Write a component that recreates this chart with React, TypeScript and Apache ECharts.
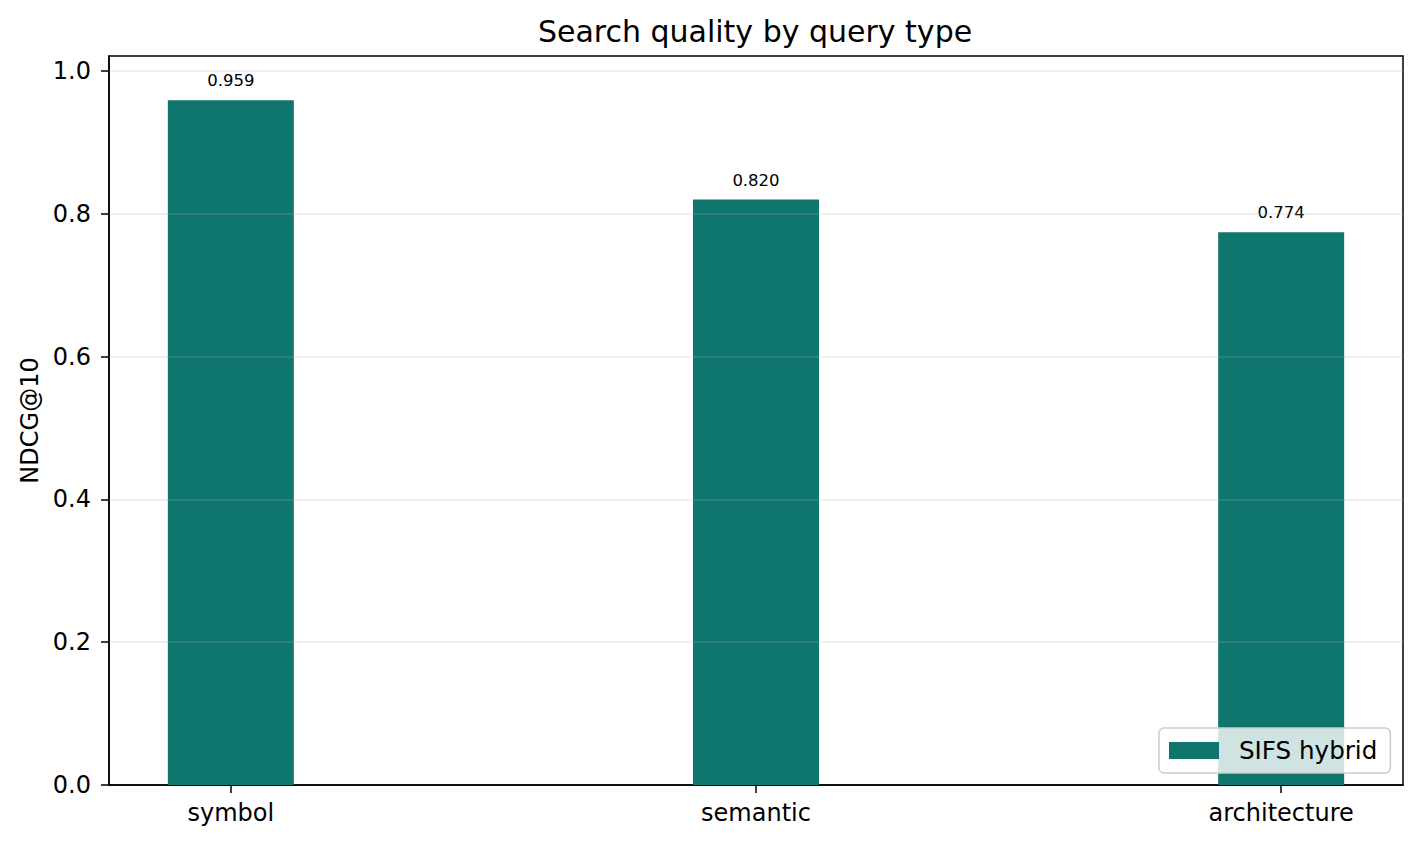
import { useEffect, useRef } from 'react';
import * as echarts from 'echarts';

const CATEGORIES = ['symbol', 'semantic', 'architecture'];
const NDCG = [0.959, 0.82, 0.774];
const Y_TICKS = [0, 0.2, 0.4, 0.6, 0.8, 1.0];
const SERIES_NAME = 'SIFS hybrid';

const TEAL = '#0f766e';
const FONT = 'DejaVu Sans';

export default function App() {
  const ref = useRef<HTMLDivElement | null>(null);

  useEffect(() => {
    if (!ref.current) return;
    const chart = echarts.init(ref.current, undefined, { renderer: 'svg' });

    const data = NDCG.map((v, i) => [i, v]);
    const catIdx = CATEGORIES.map((_, i) => i);

    chart.setOption({
      animation: false,
      backgroundColor: '#fff',
      textStyle: { fontFamily: FONT },
      title: {
        text: 'Search quality by query type',
        left: 750,
        textAlign: 'center',
        top: 11,
        textStyle: { fontFamily: FONT, fontSize: 30, fontWeight: 'normal', color: '#000' },
      },
      grid: {
        left: 109,
        right: 17,
        top: 56,
        bottom: 59,
        show: true,
        borderColor: '#000',
        borderWidth: 1.5,
        backgroundColor: 'transparent',
      },
      legend: {
        left: 1159,
        top: 728,
        orient: 'vertical',
        itemWidth: 50,
        itemHeight: 17,
        icon: 'rect',
        padding: [10, 13, 10, 10],
        backgroundColor: 'rgba(255,255,255,0.8)',
        borderColor: '#cccccc',
        borderWidth: 1.5,
        borderRadius: 5,
        textStyle: { fontFamily: FONT, fontSize: 24.6, color: '#000', padding: [0, 0, 0, 15] },
        data: [SERIES_NAME],
      },
      xAxis: {
        type: 'value',
        min: -0.232,
        max: 2.232,
        axisLine: { show: true, onZero: false, lineStyle: { color: '#000', width: 1.5 } },
        axisTick: {
          show: true,
          length: 8,
          customValues: catIdx,
          lineStyle: { color: '#000', width: 1.5 },
        },
        axisLabel: {
          customValues: catIdx,
          margin: 16,
          fontFamily: FONT,
          fontSize: 24,
          color: '#000',
          formatter: (v: number) => CATEGORIES[Math.round(v)] ?? '',
        },
        splitLine: { show: false },
      },
      yAxis: {
        type: 'value',
        min: 0,
        max: 1.021,
        name: 'NDCG@10',
        nameLocation: 'middle',
        nameRotate: 90,
        nameGap: 64,
        nameTextStyle: { fontFamily: FONT, fontSize: 24, color: '#000' },
        axisLine: { show: true, onZero: false, lineStyle: { color: '#000', width: 1.5 } },
        axisTick: {
          show: true,
          length: 8,
          customValues: Y_TICKS,
          lineStyle: { color: '#000', width: 1.5 },
        },
        axisLabel: {
          customValues: Y_TICKS,
          margin: 18,
          fontFamily: FONT,
          fontSize: 24,
          color: '#000',
          formatter: (v: number) => v.toFixed(1),
        },
        splitLine: { show: false },
      },
      series: [
        {
          name: SERIES_NAME,
          type: 'bar',
          data,
          barWidth: 126,
          itemStyle: { color: TEAL },
          label: {
            show: true,
            position: 'top',
            distance: 11,
            fontFamily: FONT,
            fontSize: 16.5,
            color: '#000',
            formatter: (p: { value: number[] }) => p.value[1].toFixed(3),
          },
          markLine: {
            silent: true,
            symbol: 'none',
            label: { show: false },
            lineStyle: { color: 'rgba(176,176,176,0.25)', width: 1.5, type: 'solid' },
            data: Y_TICKS.filter(t => t > 0).map(t => ({ yAxis: t })),
          },
        },
      ],
    });

    return () => chart.dispose();
  }, []);

  return (
    <div
      ref={ref}
      style={{ position: 'fixed', left: 0, top: 0, width: 1420, height: 844 }}
    />
  );
}
